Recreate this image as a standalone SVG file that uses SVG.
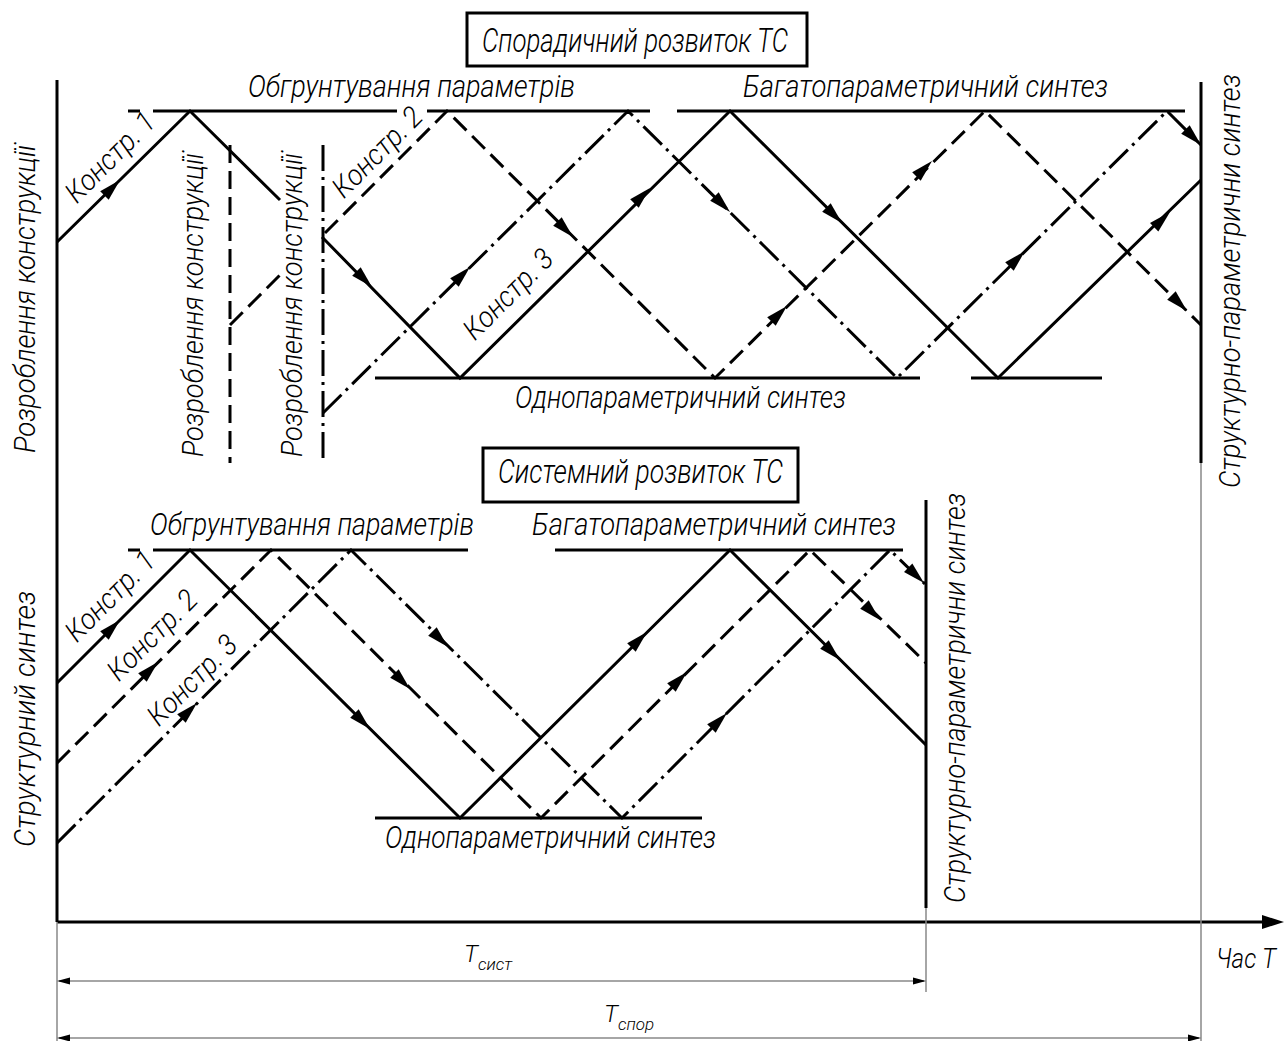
<svg xmlns="http://www.w3.org/2000/svg" xmlns:xlink="http://www.w3.org/1999/xlink" width="1284" height="1041" viewBox="0 0 1284 1041">
<style>
.s{stroke:#000;stroke-width:3;fill:none;stroke-linecap:butt}
.d{stroke-dasharray:18 8}
.dd{stroke-dasharray:26 6 3 6}
.th{stroke:#888;stroke-width:1.5;fill:none}
.t{font-family:"Roboto","Liberation Sans","DejaVu Sans",sans-serif;font-weight:300;font-style:italic;fill:#000}
.box{fill:#fff;stroke:#000;stroke-width:3}
</style>
<defs>
<path id="ah" d="M0,0 L-22,-6 L-22,6 Z" fill="#000"/>
<path id="dh" d="M0,0 L-13,-3.5 L-13,3.5 Z" fill="#000"/>
</defs>
<rect width="1284" height="1041" fill="#fff"/>

<g id="connectors">
  <line class="s" x1="57" y1="80" x2="57" y2="922"/>
  <line class="s" x1="57" y1="922" x2="1266" y2="922"/>
  <path d="M1284,922 L1262,915 L1262,929 Z" fill="#000"/>
  <line class="s" x1="1201" y1="82" x2="1201" y2="463"/>
  <line class="s" x1="926" y1="500" x2="926" y2="908"/>
  <line class="s d" x1="230" y1="145" x2="230" y2="463"/>
  <line class="s dd" x1="323" y1="145" x2="323" y2="463"/>
  <path class="s" d="M128,111 H140 M153,111 H397 M427,111 H650 M677,111 H1185"/>
  <path class="s" d="M375,378 H920 M971,378 H1102"/>
  <path class="s" d="M128,550 H140 M153,550 H468 M555,550 H903"/>
  <path class="s" d="M375,818 H702"/>
  <path class="s" d="M57,242 L190,111 L280,200"/>
  <path class="s" d="M322,237 L460,378 L730,111 L998,378 L1201,180"/>
  <path class="s d" d="M230,325 L280,275"/>
  <path class="s d" d="M325,233 L447,111 L715,378 L985,111 L1201,325"/>
  <path class="s dd" d="M323,413 L628,111 L897,378 L1167,111 L1201,145"/>
  <path class="s" d="M57,683 L190,550 L460,818 L730,550 L926,745"/>
  <path class="s d" d="M57,763 L271,550 L541,818 L810,550 L926,663"/>
  <path class="s dd" d="M57,843 L351,550 L622,818 L890,550 L926,585"/>
  <use xlink:href="#ah" transform="translate(120,180) rotate(-45)"/>
  <use xlink:href="#ah" transform="translate(372,287) rotate(45)"/>
  <use xlink:href="#ah" transform="translate(650,188) rotate(-45)"/>
  <use xlink:href="#ah" transform="translate(842,223) rotate(45)"/>
  <use xlink:href="#ah" transform="translate(1170,212) rotate(-44)"/>
  <use xlink:href="#ah" transform="translate(573,237) rotate(45)"/>
  <use xlink:href="#ah" transform="translate(787,306) rotate(-45)"/>
  <use xlink:href="#ah" transform="translate(932,161) rotate(-45)"/>
  <use xlink:href="#ah" transform="translate(1187,311) rotate(45)"/>
  <use xlink:href="#ah" transform="translate(470,267) rotate(-45)"/>
  <use xlink:href="#ah" transform="translate(730,212) rotate(45)"/>
  <use xlink:href="#ah" transform="translate(1025,251) rotate(-45)"/>
  <use xlink:href="#ah" transform="translate(1201,145) rotate(45)"/>
  <use xlink:href="#ah" transform="translate(120,620) rotate(-45)"/>
  <use xlink:href="#ah" transform="translate(370,729) rotate(45)"/>
  <use xlink:href="#ah" transform="translate(647,632) rotate(-45)"/>
  <use xlink:href="#ah" transform="translate(840,660) rotate(45)"/>
  <use xlink:href="#ah" transform="translate(158,662) rotate(-45)"/>
  <use xlink:href="#ah" transform="translate(410,689) rotate(45)"/>
  <use xlink:href="#ah" transform="translate(687,672) rotate(-45)"/>
  <use xlink:href="#ah" transform="translate(880,620) rotate(45)"/>
  <use xlink:href="#ah" transform="translate(197,703) rotate(-45)"/>
  <use xlink:href="#ah" transform="translate(448,647) rotate(45)"/>
  <use xlink:href="#ah" transform="translate(727,713) rotate(-45)"/>
  <use xlink:href="#ah" transform="translate(924,583) rotate(44)"/>
  <line class="th" x1="57" y1="922" x2="57" y2="1041"/>
  <line class="th" x1="926" y1="908" x2="926" y2="992"/>
  <line class="th" x1="1201" y1="463" x2="1201" y2="1041"/>
  <line class="th" x1="59" y1="981" x2="924" y2="981"/>
  <use xlink:href="#dh" transform="translate(57,981) rotate(180)"/>
  <use xlink:href="#dh" transform="translate(926,981)"/>
  <line class="th" x1="59" y1="1038" x2="1199" y2="1038"/>
  <use xlink:href="#dh" transform="translate(57,1038) rotate(180)"/>
  <use xlink:href="#dh" transform="translate(1201,1038)"/>
</g>

<g id="title-sporadic">
  <rect class="box" x="467" y="13" width="340" height="53"/>
  <text class="t" x="482" y="52" font-size="33" textLength="306" lengthAdjust="spacingAndGlyphs">Спорадичний розвиток ТС</text>
</g>
<g id="title-system">
  <rect class="box" x="483" y="448" width="315" height="54"/>
  <text class="t" x="498" y="483" font-size="33" textLength="285" lengthAdjust="spacingAndGlyphs">Системний розвиток ТС</text>
</g>

<g id="top-labels">
  <text class="t" x="248" y="97" font-size="32" textLength="327" lengthAdjust="spacingAndGlyphs">Обгрунтування параметрів</text>
  <text class="t" x="743" y="97" font-size="32" textLength="365" lengthAdjust="spacingAndGlyphs">Багатопараметричний синтез</text>
  <text class="t" x="515" y="408" font-size="32" textLength="331" lengthAdjust="spacingAndGlyphs">Однопараметричний синтез</text>
  <text class="t" transform="translate(35,453) rotate(-90)" font-size="30" textLength="308" lengthAdjust="spacingAndGlyphs">Розроблення конструкції</text>
  <text class="t" transform="translate(203,457) rotate(-90)" font-size="30" textLength="304" lengthAdjust="spacingAndGlyphs">Розроблення конструкції</text>
  <text class="t" transform="translate(302,457) rotate(-90)" font-size="30" textLength="304" lengthAdjust="spacingAndGlyphs">Розроблення конструкції</text>
  <text class="t" transform="translate(1240,488) rotate(-90)" font-size="30" textLength="414" lengthAdjust="spacingAndGlyphs">Структурно-параметрични синтез</text>
  <text class="t" transform="translate(110,157) rotate(-45)" y="10" text-anchor="middle" font-size="29" textLength="114" lengthAdjust="spacingAndGlyphs">Констр. 1</text>
  <text class="t" transform="translate(377,152) rotate(-45)" y="10" text-anchor="middle" font-size="29" textLength="114" lengthAdjust="spacingAndGlyphs">Констр. 2</text>
  <text class="t" transform="translate(508,294) rotate(-45)" y="10" text-anchor="middle" font-size="29" textLength="114" lengthAdjust="spacingAndGlyphs">Констр. 3</text>
</g>

<g id="bottom-labels">
  <text class="t" x="150" y="535" font-size="32" textLength="324" lengthAdjust="spacingAndGlyphs">Обгрунтування параметрів</text>
  <text class="t" x="532" y="535" font-size="32" textLength="364" lengthAdjust="spacingAndGlyphs">Багатопараметричний синтез</text>
  <text class="t" x="385" y="848" font-size="32" textLength="331" lengthAdjust="spacingAndGlyphs">Однопараметричний синтез</text>
  <text class="t" transform="translate(35,847) rotate(-90)" font-size="30" textLength="256" lengthAdjust="spacingAndGlyphs">Структурний синтез</text>
  <text class="t" transform="translate(965,903) rotate(-90)" font-size="30" textLength="410" lengthAdjust="spacingAndGlyphs">Структурно-параметрични синтез</text>
  <text class="t" transform="translate(110,596) rotate(-45)" y="10" text-anchor="middle" font-size="29" textLength="114" lengthAdjust="spacingAndGlyphs">Констр. 1</text>
  <text class="t" transform="translate(152,635) rotate(-45)" y="10" text-anchor="middle" font-size="29" textLength="114" lengthAdjust="spacingAndGlyphs">Констр. 2</text>
  <text class="t" transform="translate(192,680) rotate(-45)" y="10" text-anchor="middle" font-size="29" textLength="114" lengthAdjust="spacingAndGlyphs">Констр. 3</text>
</g>

<g id="time-labels">
  <text class="t" x="464" y="962" font-size="24">T<tspan font-size="17" dy="8">сист</tspan></text>
  <text class="t" x="604" y="1022" font-size="24">T<tspan font-size="17" dy="8">спор</tspan></text>
  <text class="t" x="1216" y="968" font-size="28" textLength="60" lengthAdjust="spacingAndGlyphs">Час T</text>
</g>
</svg>
